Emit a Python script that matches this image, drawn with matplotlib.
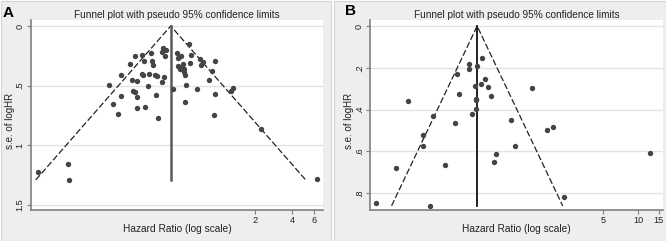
import numpy as np
import matplotlib.pyplot as plt
from matplotlib.patches import Rectangle
from matplotlib.ticker import NullLocator

plt.rcParams['font.family'] = ['Liberation Sans', 'DejaVu Sans']

# panel A: hazard ratios and standard errors of log HR
hr_a = [0.034, 0.060, 0.061, 0.130, 0.161, 0.161, 0.140, 0.152, 0.191, 0.210,
        0.240, 0.250, 0.287, 0.289, 0.298, 0.200, 0.219, 0.241, 0.243, 0.275,
        0.309, 0.317, 0.350, 0.362, 0.205, 0.211, 0.217, 0.219, 0.255, 0.268,
        0.315, 0.327, 0.350, 0.359, 0.378, 0.368, 0.428, 0.464, 0.470, 0.497,
        0.523, 0.476, 0.513, 0.526, 0.533, 0.494, 0.542, 0.549, 0.542, 0.585,
        0.603, 0.589, 0.675, 0.714, 0.732, 0.755, 0.850, 0.894, 0.946, 0.946,
        0.933, 1.268, 1.316, 2.252, 6.42]
se_a = [1.224, 1.157, 1.291, 0.497, 0.414, 0.584, 0.657, 0.738, 0.319, 0.251,
        0.240, 0.293, 0.226, 0.291, 0.324, 0.453, 0.464, 0.402, 0.414, 0.402,
        0.414, 0.416, 0.469, 0.427, 0.542, 0.550, 0.598, 0.690, 0.676, 0.503,
        0.581, 0.774, 0.218, 0.187, 0.201, 0.251, 0.531, 0.226, 0.265, 0.251,
        0.319, 0.335, 0.346, 0.363, 0.383, 0.358, 0.414, 0.497, 0.637, 0.151,
        0.246, 0.310, 0.525, 0.279, 0.330, 0.302, 0.455, 0.380, 0.293, 0.570,
        0.743, 0.545, 0.517, 0.866, 1.282]
pooled_a = 0.412
maxse_a = 1.29

# panel B
hr_b = [0.0564, 0.0848, 0.1068, 0.1444, 0.1444, 0.1736, 0.1658, 0.223, 0.2715,
        0.2806, 0.292, 0.358, 0.358, 0.419, 0.457, 0.448, 0.488, 0.517, 0.545,
        0.398, 0.406, 0.411, 0.411, 0.380, 0.606, 0.586, 0.814, 0.875, 1.233,
        1.667, 1.865, 2.316, 12.63]
se_b = [0.846, 0.682, 0.361, 0.521, 0.573, 0.430, 0.861, 0.667, 0.465,
        0.228, 0.324, 0.184, 0.204, 0.190, 0.152, 0.278, 0.252, 0.294, 0.334,
        0.286, 0.348, 0.354, 0.398, 0.423, 0.615, 0.651, 0.450, 0.573, 0.299,
        0.498, 0.484, 0.818, 0.610]
pooled_b = 0.417
maxse_b = 0.861

title = 'Funnel plot with pseudo 95% confidence limits'

W, H = 666, 241
fig = plt.figure(figsize=(W / 100, H / 100), dpi=100)
fig.patches.append(Rectangle((0.5 / W, 0.5 / H), 330 / W, 240 / H, transform=fig.transFigure,
                             facecolor='#eeeeee', edgecolor='#d4d4d4', lw=0.8, zorder=-10))
fig.patches.append(Rectangle((334 / W, 0.5 / H), 331.5 / W, 240 / H, transform=fig.transFigure,
                             facecolor='#eeeeee', edgecolor='#d4d4d4', lw=0.8, zorder=-10))


def box(l, t, r, b):
    return [l / W, (H - b) / H, (r - l) / W, (b - t) / H]


def funnel(pos, hr, se, pooled, maxse, xlim, ylim, xt, yt, ylab, ccol, clw, ylab_x):
    ax = fig.add_axes(pos)
    ax.set_facecolor('white')
    ax.set_xscale('log')
    ax.set_xlim(*xlim)
    ax.set_ylim(*ylim)
    for yy in yt:
        ax.axhline(yy, color='#e3e3e3', lw=1.0, zorder=0)
    lo = pooled * np.exp(-1.96 * maxse)
    hi = pooled * np.exp(1.96 * maxse)
    ax.plot([lo, pooled, hi], [maxse, 0, maxse], color='#222222', lw=0.9,
            ls=(0, (5, 2)), zorder=2)
    ax.plot([pooled, pooled], [0, maxse], color=ccol, lw=clw, zorder=2)
    ax.scatter(hr, se, s=15, color='#444444', zorder=3, linewidths=0)
    ax.xaxis.set_minor_locator(NullLocator())
    ax.set_xticks(xt, [str(v) for v in xt])
    ax.set_yticks(yt, ylab)
    for lab in ax.get_yticklabels():
        lab.set_rotation(90)
        lab.set_va('center')
    ax.tick_params(length=3, width=0.8, color='#808080', labelsize=6.6, pad=1.5,
                   labelcolor='#222222')
    for s in ['top', 'right']:
        ax.spines[s].set_visible(False)
    for s in ['left', 'bottom']:
        ax.spines[s].set_color('#808080')
        ax.spines[s].set_linewidth(1.2)
    ax.set_xlabel('Hazard Ratio (log scale)', fontsize=7.3, color='#222222', va='center')
    ax.xaxis.set_label_coords(0.5, -19 / 190)
    ax.set_ylabel('s.e. of logHR', fontsize=7, color='#222222', va='center')
    ax.yaxis.set_label_coords(ylab_x, 0.47)
    ax.text(0.5, 1 + 5 / 190, title, transform=ax.transAxes, fontsize=7.2,
            ha='center', va='center', color='#222222')
    return ax


funnel(box(30.7, 20, 323, 210), hr_a, se_a, pooled_a, maxse_a, (0.0299, 7.14), (1.542, -0.05),
       [2, 4, 6], [0, 0.5, 1, 1.5], ['0', '.5', '1', '1.5'], '#5a5a5a', 1.8, -21 / 292.3)
funnel(box(370.3, 20, 663, 210), hr_b, se_b, pooled_b, maxse_b, (0.0507, 16.3), (0.881, -0.029),
       [5, 10, 15], [0, 0.2, 0.4, 0.6, 0.8], ['0', '.2', '.4', '.6', '.8'], '#111111', 1.3,
       -21 / 292.7)

fig.text(3 / W, 1 - 13 / H, 'A', fontsize=11, fontweight='bold', va='center', ha='left')
fig.text(345 / W, 1 - 11 / H, 'B', fontsize=11, fontweight='bold', va='center', ha='left')

fig.savefig('out.png', dpi=100)
